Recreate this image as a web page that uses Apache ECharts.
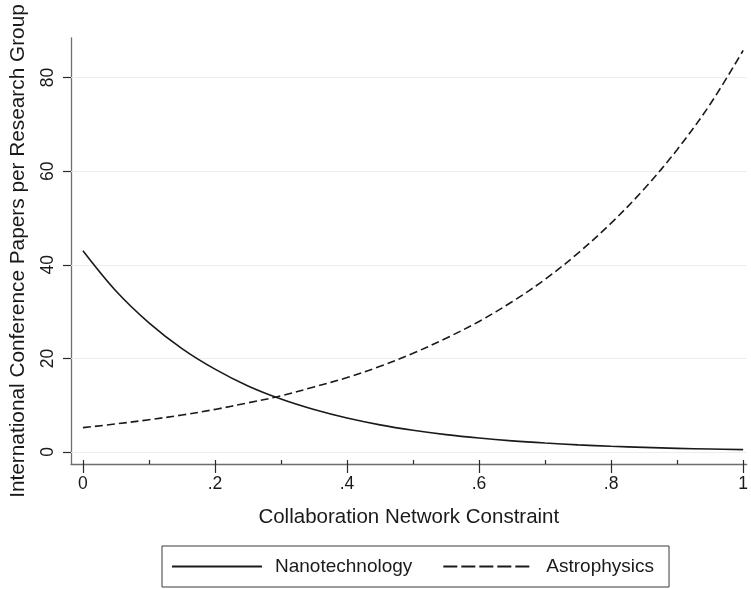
<!DOCTYPE html>
<html>
<head>
<meta charset="utf-8">
<script src="https://cdn.jsdelivr.net/npm/echarts@6/dist/echarts.min.js"></script>
<style>
  html, body { margin: 0; padding: 0; background: #ffffff; }
  #chart { width: 751px; height: 589px; }
</style>
</head>
<body>
<div id="chart"></div>
<script>
// Predicted conference output against network constraint, two fields
const constraintValues = [0, 0.05, 0.1, 0.15, 0.2, 0.25, 0.3, 0.35, 0.4, 0.45, 0.5,
                          0.55, 0.6, 0.65, 0.7, 0.75, 0.8, 0.85, 0.9, 0.95, 1];
const nanotechnology = [43.0, 34.4, 27.6, 22.1, 17.7, 14.1, 11.3, 9.06, 7.25, 5.8, 4.65,
                        3.72, 2.98, 2.38, 1.91, 1.53, 1.22, 0.98, 0.78, 0.63, 0.5];
const astrophysics = [5.2, 6.0, 6.9, 7.9, 9.1, 10.5, 12.0, 13.9, 15.9, 18.3, 21.1,
                      24.3, 27.9, 32.1, 36.9, 42.5, 48.9, 56.2, 64.6, 74.3, 85.8];

const seriesNames = ['Nanotechnology', 'Astrophysics'];
const yTicks = [0, 20, 40, 60, 80];
const xTicks = [0, 0.2, 0.4, 0.6, 0.8, 1];
const xTickLabels = ['0', '.2', '.4', '.6', '.8', '1'];
const xSmallTicks = [0, 0.1, 0.2, 0.3, 0.4, 0.5, 0.6, 0.7, 0.8, 0.9, 1];

const xTitle = 'Collaboration Network Constraint';
const yTitle = 'International Conference Papers per Research Group';

// Axis extents leave a small margin so the axis lines sit off the data
const X_MIN = -0.0181, X_MAX = 1.0053;
const Y_MIN = -2.564, Y_MAX = 88.46;

const FONT = '"Liberation Sans", Arial, Helvetica, sans-serif';
const INK = '#1a1a1a';

function pairs(xs, ys) {
  return xs.map((x, i) => [x, ys[i]]);
}

function xLabel(v) {
  for (let i = 0; i < xTicks.length; i++) {
    if (Math.abs(v - xTicks[i]) < 1e-6) return xTickLabels[i];
  }
  return '';
}

// legend keys show only the line pattern, no marker
const hiddenMarker = { opacity: 0, color: 'transparent', borderWidth: 0 };

const chart = echarts.init(document.getElementById('chart'), null, { renderer: 'canvas' });

chart.setOption({
  backgroundColor: '#ffffff',
  animation: false,
  textStyle: { fontFamily: FONT, color: INK },
  grid: { left: 71, right: 1, top: 38, bottom: 125, containLabel: false },
  xAxis: [
    {
      type: 'value',
      min: X_MIN,
      max: X_MAX,
      position: 'bottom',
      name: xTitle,
      nameLocation: 'middle',
      nameGap: 43,
      nameTextStyle: { fontSize: 20.5, color: INK, fontFamily: FONT },
      axisLine: { show: true, onZero: false, lineStyle: { color: '#6e6e6e', width: 1.3 } },
      axisTick: { show: true, customValues: xTicks, length: 9, lineStyle: { color: '#2a2a2a', width: 1.2 } },
      axisLabel: { show: true, customValues: xTicks, formatter: xLabel, margin: 11,
                   fontSize: 17.5, color: INK, fontFamily: FONT },
      splitLine: { show: false }
    },
    {
      type: 'value',
      min: X_MIN,
      max: X_MAX,
      position: 'bottom',
      offset: 0,
      axisLine: { show: false, onZero: false },
      axisTick: { show: true, inside: true, customValues: xSmallTicks, length: 4,
                  lineStyle: { color: '#2a2a2a', width: 1.2 } },
      axisLabel: { show: false },
      splitLine: { show: false }
    }
  ],
  yAxis: {
    type: 'value',
    min: Y_MIN,
    max: Y_MAX,
    name: yTitle,
    nameLocation: 'middle',
    nameGap: 42,
    nameTextStyle: { fontSize: 20.8, color: INK, fontFamily: FONT },
    axisLine: { show: true, onZero: false, lineStyle: { color: '#6e6e6e', width: 1.3 } },
    axisTick: { show: true, customValues: yTicks, length: 8, lineStyle: { color: '#2a2a2a', width: 1.2 } },
    axisLabel: { show: true, customValues: yTicks, rotate: 90, margin: 14,
                 fontSize: 17.5, color: INK, fontFamily: FONT },
    splitLine: { show: false }
  },
  legend: {
    show: true,
    left: 162,
    top: 546,
    orient: 'horizontal',
    padding: [11, 15, 11, 9],
    itemGap: 30,
    itemWidth: 90,
    itemHeight: 22,
    borderColor: '#3a3a3a',
    borderWidth: 1,
    borderRadius: 0,
    backgroundColor: '#ffffff',
    selectedMode: false,
    itemStyle: hiddenMarker,
    textStyle: { fontSize: 19, color: INK, fontFamily: FONT, padding: [0, 0, 0, 8] },
    data: [
      { name: seriesNames[0], itemStyle: hiddenMarker,
        lineStyle: { color: INK, width: 2, type: 'solid' } },
      { name: seriesNames[1], itemStyle: hiddenMarker,
        lineStyle: { color: INK, width: 2, type: [14, 4] } }
    ]
  },
  series: [
    {
      // light horizontal reference lines at the y tick values
      name: 'gridlines',
      type: 'line',
      data: [],
      z: 1,
      silent: true,
      markLine: {
        silent: true,
        z: 1,
        symbol: ['none', 'none'],
        label: { show: false },
        lineStyle: { color: '#ededed', width: 1.2, type: 'solid' },
        emphasis: { disabled: true },
        data: yTicks.map(v => ({ yAxis: v }))
      }
    },
    {
      name: seriesNames[0],
      type: 'line',
      z: 3,
      data: pairs(constraintValues, nanotechnology),
      smooth: 0.35,
      symbol: 'none',
      lineStyle: { color: INK, width: 1.6, type: 'solid' },
      itemStyle: { color: INK }
    },
    {
      name: seriesNames[1],
      type: 'line',
      z: 3,
      data: pairs(constraintValues, astrophysics),
      smooth: 0.35,
      symbol: 'none',
      lineStyle: { color: INK, width: 1.6, type: [8, 4] },
      itemStyle: { color: INK }
    }
  ]
});
</script>
</body>
</html>
